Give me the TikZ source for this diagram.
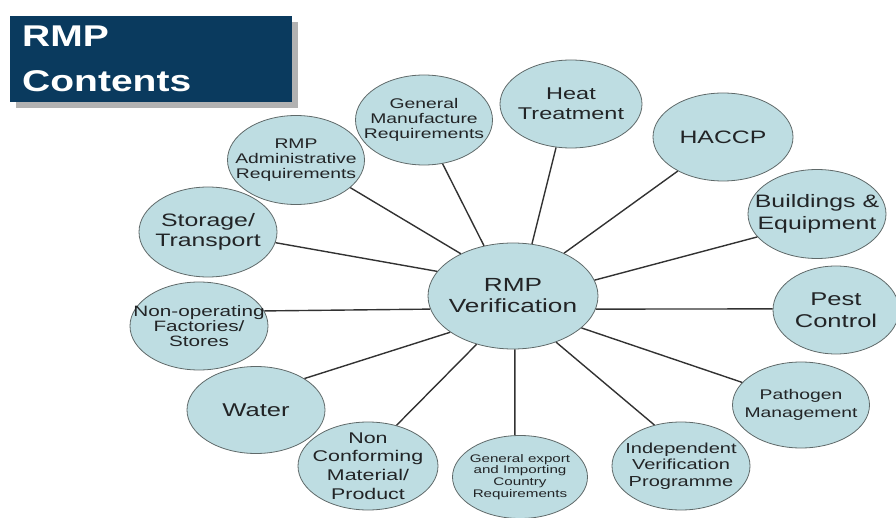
\documentclass[tikz,border=0pt]{standalone}
\usepackage{fontspec}
\setmainfont{Liberation Sans}
\newfontfamily\wideface[FakeStretch=1.38]{Liberation Sans}
\newfontfamily\headface[FakeStretch=1.3]{Liberation Sans}
\usetikzlibrary{shapes.geometric}
\definecolor{bubfill}{RGB}{190,221,226}
\definecolor{bubline}{RGB}{95,105,105}
\definecolor{navy}{RGB}{10,58,94}
\definecolor{ink}{RGB}{34,36,38}
\definecolor{linkgray}{RGB}{50,50,50}
\tikzset{
  bub/.style 2 args={ellipse, draw=bubline, line width=0.8pt, fill=bubfill,
    inner sep=0pt, minimum width=#1pt, minimum height=#2pt},
  txt/.style={text=ink, align=center, inner sep=0pt},
  fs/.style 2 args={font=\wideface\fontsize{#1}{#2}\selectfont},
  link/.style={draw=linkgray, line width=1.4pt},
  headtxt/.style={text=white, anchor=base west, inner sep=0pt,
    font=\headface\bfseries\fontsize{30}{36}\selectfont}
}
\begin{document}
\begin{tikzpicture}[x=1pt,y=-1pt]
\useasboundingbox (0,0) rectangle (896,518);

% title panel with drop shadow
\fill[gray!60] (16,22) rectangle (298,108);
\fill[navy] (10,16) rectangle (292,102);
\node[headtxt] (hd1) at (22,46.7) {RMP};
\node[headtxt] (hd2) at (22,91.7) {Contents};

% hub
\node[bub={170}{106}, label={[txt,fs={19}{21}]center:RMP\\Verification}] (c) at (513,296) {};

% satellites
\node[bub={142}{88}, label={[txt,fs={17}{20}]center:Heat\\Treatment}] (ht) at (571,104) {};
\node[bub={140}{88}, label={[txt,fs={18}{20}]center:HACCP}] (ha) at (723,137) {};
\node[bub={138}{89}, label={[txt,fs={18}{21.5}]center:Buildings \&\\Equipment}] (be) at (817,214) {};
\node[bub={126}{88}, label={[txt,fs={18.5}{21.5}]center:Pest\\Control}] (pc) at (836,310) {};
\node[bub={137}{86}, label={[txt,fs={14}{18}]center:Pathogen\\Management}] (pm) at (801,405) {};
\node[bub={138}{88}, label={[txt,fs={14.5}{16.7}]center:Independent\\Verification\\Programme}] (iv) at (681,466) {};
\node[bub={135}{83}, label={[txt,fs={11}{11.7}]center:General export\\and Importing\\Country\\Requirements}] (ge) at (520,477) {};
\node[bub={140}{88}, label={[txt,fs={15.5}{18.7}]center:Non\\Conforming\\Material/\\Product}] (nc) at (368,466) {};
\node[bub={138}{87}, label={[txt,fs={18.5}{20}]center:Water}] (w) at (256,410) {};
\node[bub={138}{88}, label={[txt,fs={15}{15.3}]center:Non-operating\\Factories/\\Stores}] (no) at (199,326) {};
\node[bub={138}{90}, label={[txt,fs={18}{20}]center:Storage/\\Transport}] (st) at (208,232) {};
\node[bub={137}{89}, label={[txt,fs={14}{15}]center:RMP\\Administrative\\Requirements}] (ra) at (296,160) {};
\node[bub={137}{90}, label={[txt,fs={14}{15}]center:General\\Manufacture\\Requirements}] (gm) at (424,120) {};

% spokes
\draw[link] (c.120) -- (gm.293);
\draw[link] (c.141) -- (ra.333);
\draw[link] (c.162) -- (st.351);
\draw[link] (c.189) -- (no.13);
\draw[link] (c.210) -- (w.33);
\draw[link] (c.233) -- (nc.55);
\draw[link] (c.272) -- (ge.97);
\draw[link] (c.313) -- (iv.123);
\draw[link] (c.335) -- (pm.159);
\draw[link] (c.351) -- (pc.179);
\draw[link] (c.11) -- (be.201);
\draw[link] (c.40) -- (ha.217);
\draw[link] (c.70) -- (ht.251);
\end{tikzpicture}
\end{document}
